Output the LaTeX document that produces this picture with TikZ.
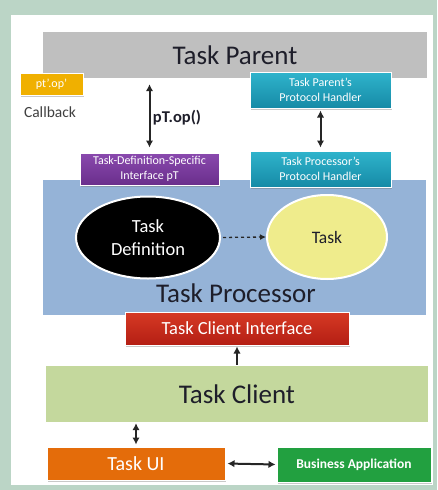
\documentclass[tikz,border=0pt]{standalone}
\usepackage{fontspec}
\setmainfont{Carlito}
\usetikzlibrary{arrows.meta,shadows,calc,shapes.geometric}

\definecolor{frame}{HTML}{BBD5C6}
\definecolor{parentgray}{HTML}{BFBFBF}
\definecolor{cbgold}{HTML}{F0B000}
\definecolor{tealtop}{HTML}{2FB4CC}
\definecolor{tealbot}{HTML}{168AA6}
\definecolor{purtop}{HTML}{8A4AAE}
\definecolor{purbot}{HTML}{6A2E8C}
\definecolor{procblue}{HTML}{95B3D7}
\definecolor{taskyellow}{HTML}{EFEC8C}
\definecolor{redtop}{HTML}{D63A24}
\definecolor{redbot}{HTML}{B41E14}
\definecolor{clientgreen}{HTML}{C4D89D}
\definecolor{uiorange}{HTML}{E46C0A}
\definecolor{bizgreen}{HTML}{22A040}
\definecolor{darktext}{HTML}{1E1E2A}

\tikzset{
  plate/.style={rectangle, inner sep=0pt, align=center},
  colbox/.style={plate, draw=white, line width=1pt, text=white,
    drop shadow={shadow xshift=1pt, shadow yshift=-1.5pt, opacity=0.35, fill=black!60}},
  bigtext/.style={font=\fontsize{27}{30}\selectfont, text=darktext},
  smalltext/.style={font=\fontsize{12}{14.5}\selectfont},
  dbl/.style={{Latex[length=7pt,width=7.5pt]}-{Latex[length=7pt,width=7.5pt]}, line width=2pt, black!85},
  sgl/.style={-{Latex[length=7pt,width=7.5pt]}, line width=2pt, black!85},
}

\begin{document}
\begin{tikzpicture}[x=1pt,y=-1pt]
  % frame and white panel
  \fill[frame] (0,0) rectangle (437,490);
  \fill[white] (11,15) rectangle (433,485);
  \useasboundingbox (0,0) rectangle (437,490);

  % Task Parent
  \node[plate, fill=parentgray, minimum width=384pt, minimum height=46pt, bigtext]
    (parent) at (235,55) {Task Parent};

  % callback
  \node[colbox, fill=cbgold, minimum width=63pt, minimum height=22pt, smalltext]
    (cb) at (51.5,84) {pt'.op'};
  \node[font=\fontsize{15.5}{18}\selectfont, text=black!75] (cblabel) at (50,112) {Callback};

  % Task Processor region
  \node[plate, fill=procblue, minimum width=383pt, minimum height=135pt]
    (proc) at (234.5,247.5) {};
  \node[bigtext] (proclabel) at (236,293) {Task Processor};

  % protocol handlers and interface
  \node[colbox, top color=tealtop, bottom color=tealbot, minimum width=141pt, minimum height=36pt, smalltext]
    (tpph) at (320.5,90) {Task Parent's\\Protocol Handler};
  \node[colbox, top color=tealtop, bottom color=tealbot, minimum width=141pt, minimum height=36pt, smalltext]
    (tprh) at (320.5,169) {Task Processor's\\Protocol Handler};
  \node[colbox, top color=purtop, bottom color=purbot, minimum width=139pt, minimum height=32pt, smalltext]
    (iface) at (149.5,169) {Task-Definition-Specific\\Interface pT};

  % ellipses
  \node[ellipse, fill=black, draw=white, line width=2pt, minimum width=144pt, minimum height=82pt,
        inner sep=0pt, align=center, text=white, font=\fontsize{18.5}{23}\selectfont]
    (def) at (148,237.5) {Task\\Definition};
  \node[ellipse, fill=taskyellow, draw=white, line width=2pt, minimum width=120pt, minimum height=84pt,
        inner sep=0pt, text=darktext, font=\fontsize{17.5}{20}\selectfont]
    (task) at (327,237) {Task};

  % Task Client Interface
  \node[colbox, top color=redtop, bottom color=redbot, minimum width=224pt, minimum height=33pt,
        font=\fontsize{18.5}{22}\selectfont]
    (tci) at (237,328.5) {Task Client Interface};

  % Task Client
  \node[plate, fill=clientgreen, minimum width=382pt, minimum height=56pt, bigtext]
    (client) at (237,394) {Task Client};

  % bottom row
  \node[colbox, fill=uiorange, minimum width=178pt, minimum height=33pt,
        font=\fontsize{20}{24}\selectfont]
    (ui) at (136,463.5) {Task UI};
  \node[colbox, fill=bizgreen, minimum width=154pt, minimum height=35pt,
        font=\bfseries\fontsize{13.5}{16}\selectfont]
    (biz) at (354,464.5) {Business Application};

  % connectors
  \draw[dbl, shorten <=6pt, shorten >=5pt] (iface.north |- parent.south) -- (iface.north);
  \node[font=\bfseries\fontsize{16.5}{20}\selectfont, text=darktext] (opl) at (177,118) {pT.op()};
  \draw[dbl, shorten <=2pt, shorten >=3pt] (tpph.south) -- (tprh.north);
  \draw[-{Latex[length=6pt,width=6pt]}, dashed, line width=1.3pt, black!85, shorten <=2pt]
    (def.east) -- (task.west);
  \draw[sgl, shorten <=1pt, shorten >=1pt] (tci.south |- client.north) -- (tci.south);
  \draw[dbl, shorten <=1pt, shorten >=2pt] (ui.north |- client.south) -- (ui.north);
  \draw[dbl, shorten <=2pt, shorten >=1pt] (ui.east) -- (biz.west);
\end{tikzpicture}
\end{document}
